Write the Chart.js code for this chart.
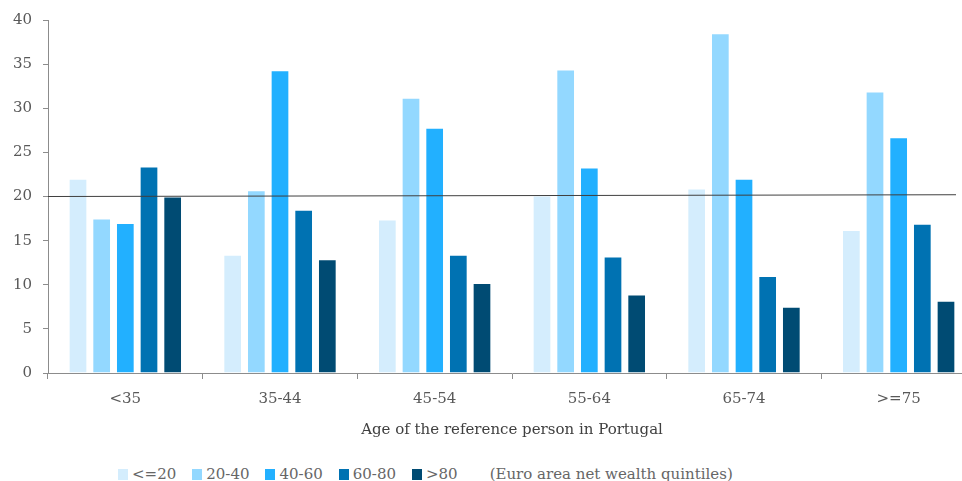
<!DOCTYPE html>
<html>
<head>
<meta charset="utf-8">
<script src="https://cdn.jsdelivr.net/npm/chart.js@4.4.1/dist/chart.umd.min.js"></script>
<style>
  body { margin: 0; background: #fff; overflow: hidden; width: 962px; height: 481px; position: relative; }
  #wrap { position: absolute; left: 0; top: 0; width: 990px; height: 443px; }
  #legend { position: absolute; left: 118px; top: 465px; display: flex; align-items: center;
    font-family: "DejaVu Serif", serif; font-size: 15px; color: #666; white-space: nowrap; }
  #legend .item { display: flex; align-items: center; margin-right: 16px; }
  #legend .box { width: 10px; height: 11px; margin-right: 4px; }
  #legend .note { margin-left: 16px; }
</style>
</head>
<body>
<div id="wrap"><canvas id="wealthChart"></canvas></div>
<div id="legend"></div>
<script>
// age groups of the reference person
const ageGroups = ["<35", "35-44", "45-54", "55-64", "65-74", ">=75"];

// share of households (%) per euro area net wealth quintile
const q1 = [22.0, 13.4, 17.4, 20.1, 20.9, 16.2];
const q2 = [17.5, 20.7, 31.2, 34.4, 38.5, 31.9];
const q3 = [17.0, 34.3, 27.8, 23.3, 22.0, 26.7];
const q4 = [23.4, 18.5, 13.4, 13.2, 11.0, 16.9];
const q5 = [20.0, 12.9, 10.2, 8.9, 7.5, 8.2];

const quintileNames = ["<=20", "20-40", "40-60", "60-80", ">80"];
const quintileColors = ["#d4edfd", "#93d8ff", "#22b0ff", "#0072b2", "#004b73"];
const legendNote = "(Euro area net wealth quintiles)";

// 20% reference line (left end, right end)
const refLine = [20.0, 20.2];

const yTicks = [0, 5, 10, 15, 20, 25, 30, 35, 40];

const serif = "'DejaVu Serif', serif";
const textGrey = "#595959";
const axisGrey = "#8c8c8c";

// draw the 20% line on top of the bars
const refLinePlugin = {
  id: "refLine",
  afterDatasetsDraw(chart) {
    const y = chart.scales.y;
    const area = chart.chartArea;
    const ctx = chart.ctx;
    ctx.save();
    ctx.strokeStyle = "#3f3f3f";
    ctx.lineWidth = 1;
    ctx.beginPath();
    ctx.moveTo(area.left, y.getPixelForValue(refLine[0]));
    ctx.lineTo(area.right - 20, y.getPixelForValue(refLine[1]));
    ctx.stroke();
    ctx.restore();
  }
};

const seriesValues = [q1, q2, q3, q4, q5];
const datasets = quintileNames.map((name, i) => ({
  label: name,
  data: seriesValues[i],
  backgroundColor: quintileColors[i],
  borderColor: "rgba(255,255,255,0.55)",
  borderWidth: 1,
  barPercentage: 0.79,
  categoryPercentage: 0.765
}));

const ctx = document.getElementById("wealthChart").getContext("2d");
const wealthChart = new Chart(ctx, {
  type: "bar",
  data: { labels: ageGroups, datasets: datasets },
  options: {
    responsive: true,
    maintainAspectRatio: false,
    animation: false,
    layout: { padding: { top: 20, right: 14, left: 0, bottom: 0 } },
    plugins: {
      legend: { display: false },
      tooltip: { enabled: false }
    },
    scales: {
      x: {
        grid: { display: true, drawOnChartArea: false, offset: true, tickLength: 6, color: axisGrey },
        border: { color: axisGrey },
        ticks: { color: textGrey, font: { family: serif, size: 15 }, padding: 11 },
        title: {
          display: true,
          text: "Age of the reference person in Portugal",
          color: "#404040",
          font: { family: serif, size: 15 },
          padding: { top: 4, bottom: 4 }
        },
        afterFit(scale) { scale.height = 70; }
      },
      y: {
        min: 0,
        max: 40,
        afterBuildTicks(scale) { scale.ticks = yTicks.map((v) => ({ value: v })); },
        grid: { display: true, drawOnChartArea: false, tickLength: 5, color: axisGrey },
        border: { color: axisGrey },
        ticks: { color: textGrey, font: { family: serif, size: 15 }, padding: 11 },
        afterFit(scale) { scale.width = 48; }
      }
    }
  },
  plugins: [refLinePlugin]
});

// legend below the chart
let output = "";
quintileNames.forEach((name, i) => {
  output += '<span class="item"><span class="box" style="background:' + quintileColors[i] + '"></span>' +
    name.replace("<", "&lt;").replace(">", "&gt;") + "</span>";
});
output += '<span class="note">' + legendNote + "</span>";
document.getElementById("legend").innerHTML = output;
</script>
</body>
</html>
